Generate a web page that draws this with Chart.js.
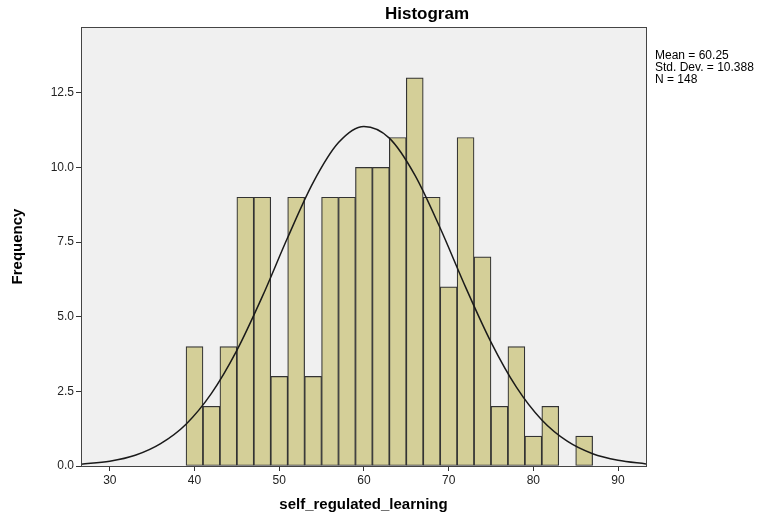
<!DOCTYPE html>
<html>
<head>
<meta charset="utf-8">
<script src="https://cdn.jsdelivr.net/npm/chart.js@4/dist/chart.umd.min.js"></script>
<style>
    html, body { margin: 0; padding: 0; background: #ffffff; }
    #wrap { width: 782px; height: 519px; }
</style>
</head>
<body>
<div id="wrap"><canvas id="histChart" width="782" height="519"></canvas></div>
<script>
// bin centres (bin width 2) and counts
const binCenters = [40, 42, 44, 46, 48, 50, 52, 54, 56, 58, 60, 62, 64, 66, 68, 70, 72, 74, 76, 78, 80, 82, 84, 86]
const binCounts = [4, 2, 4, 9, 9, 3, 9, 3, 9, 9, 10, 10, 11, 13, 9, 6, 11, 7, 2, 4, 1, 2, 0, 1]

// normal curve
const curveX = [26.6, 30, 33, 36, 39, 42, 45, 48, 51, 54, 57, 60, 63, 66, 69, 72, 75, 78, 81, 84, 87, 90, 93.3]
const curveY = [0.06, 0.16, 0.36, 0.75, 1.40, 2.43, 3.87, 5.67, 7.65, 9.49, 10.83, 11.37, 10.98, 9.75, 7.97, 5.99, 4.15, 2.64, 1.54, 0.83, 0.41, 0.19, 0.07]

const statLines = ['Mean = 60.25', 'Std. Dev. = 10.388', 'N = 148']
const chartTitle = 'Histogram'
const xTitle = 'self_regulated_learning'
const yTitle = 'Frequency'

const FONT = '"Liberation Sans", Arial, sans-serif'

// grey plot background, box around the plot and all the text
const spssFrame = {
    id: 'spssFrame',
    beforeDatasetsDraw(chart) {
        const { ctx, chartArea: a } = chart
        ctx.save()
        ctx.fillStyle = '#f0f0f0'
        ctx.fillRect(a.left, a.top, a.right - a.left, a.bottom - a.top)
        ctx.restore()
    },
    afterDraw(chart) {
        const { ctx, chartArea: a } = chart
        ctx.save()
        ctx.strokeStyle = '#444444'
        ctx.lineWidth = 1
        ctx.strokeRect(Math.round(a.left) + 0.5, Math.round(a.top) + 0.5,
            Math.round(a.right - a.left), Math.round(a.bottom - a.top))

        ctx.fillStyle = '#000000'
        ctx.textAlign = 'center'
        ctx.textBaseline = 'middle'
        ctx.font = 'bold 17px ' + FONT
        ctx.fillText(chartTitle, 427, 14)

        ctx.font = 'bold 15px ' + FONT
        ctx.fillText(xTitle, (a.left + a.right) / 2, 505)

        ctx.save()
        ctx.translate(18, (a.top + a.bottom) / 2)
        ctx.rotate(-Math.PI / 2)
        ctx.fillText(yTitle, 0, 0)
        ctx.restore()

        ctx.textAlign = 'left'
        ctx.font = '12px ' + FONT
        statLines.forEach((line, i) => {
            ctx.fillText(line, 655, 56 + i * 12)
        })
        ctx.restore()
    }
}

const ctx = document.getElementById('histChart').getContext('2d')
const histChart = new Chart(ctx, {
    data: {
        datasets: [
            {
                type: 'line',
                data: curveX.map((x, i) => ({ x: x, y: curveY[i] })),
                borderColor: '#1a1a1a',
                borderWidth: 1.5,
                pointRadius: 0,
                cubicInterpolationMode: 'monotone',
                fill: false,
                order: 0
            },
            {
                type: 'bar',
                data: binCenters.map((x, i) => ({ x: x, y: binCounts[i] })),
                backgroundColor: '#d4cf98',
                borderColor: '#333333',
                borderWidth: 1.2,
                borderSkipped: false,
                barPercentage: 1,
                categoryPercentage: 1,
                grouped: false,
                order: 1
            }
        ]
    },
    options: {
        responsive: false,
        animation: false,
        events: [],
        layout: { padding: { left: 0, top: 27, right: 136, bottom: 0 } },
        plugins: {
            legend: { display: false },
            tooltip: { enabled: false },
            title: { display: false }
        },
        scales: {
            x: {
                type: 'linear',
                min: 26.6,
                max: 93.3,
                offset: false,
                afterFit: s => { s.height = 53 },
                grid: { offset: false, drawOnChartArea: false, drawTicks: true, tickLength: 5, color: '#333333' },
                border: { display: true, color: '#444444' },
                ticks: {
                    stepSize: 10,
                    includeBounds: false,
                    color: '#222222',
                    font: { family: FONT, size: 12 },
                    padding: 2,
                    maxRotation: 0
                }
            },
            y: {
                type: 'linear',
                min: 0,
                max: 14.7,
                afterFit: s => { s.width = 81 },
                grid: { drawOnChartArea: false, drawTicks: true, tickLength: 5, color: '#333333' },
                border: { display: true, color: '#444444' },
                ticks: {
                    stepSize: 2.5,
                    includeBounds: false,
                    color: '#222222',
                    font: { family: FONT, size: 12 },
                    padding: 2,
                    callback: v => v.toFixed(1)
                }
            }
        }
    },
    plugins: [spssFrame]
})
</script>
</body>
</html>
